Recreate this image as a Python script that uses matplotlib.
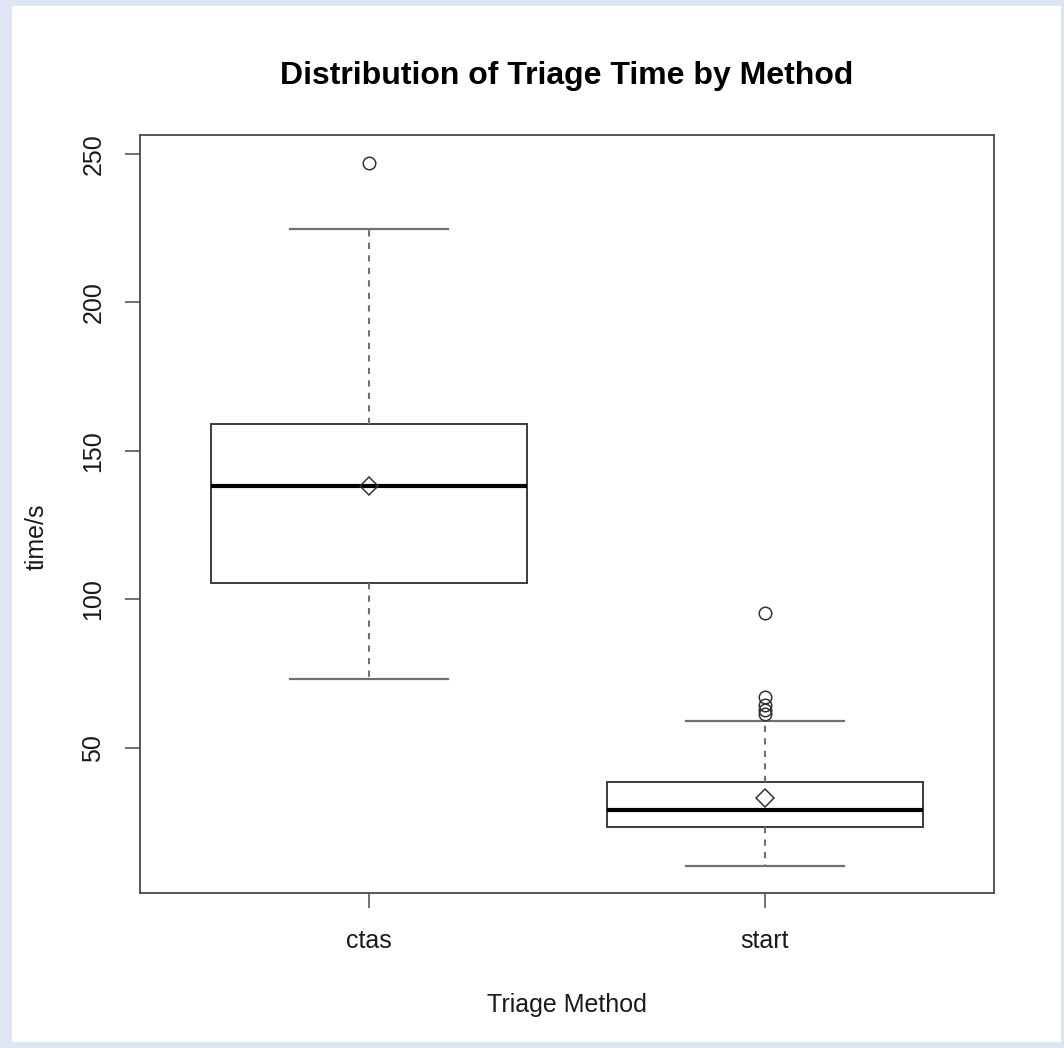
import matplotlib
matplotlib.use('Agg')
import matplotlib.pyplot as plt
from matplotlib.patches import Rectangle

plt.rcParams['font.family'] = ['Liberation Sans', 'DejaVu Sans']

# values
methods = ['ctas', 'start']
q1 = [105.4, 23.1]
medians = [138.1, 29.0]
q3 = [159.0, 38.3]
whisk_lo = [73.0, 10.2]
whisk_hi = [224.6, 59.1]
means = [138.0, 32.9]
outliers = [[246.9], [95.2, 67.2, 64.4, 62.5, 61.4]]
yticks = [50, 100, 150, 200, 250]

W, H = 1064, 1048
fig = plt.figure(figsize=(W / 100, H / 100), dpi=100)
fig.patch.set_facecolor('#dfe5f2')
# white panel inside the light blue frame, kept behind the axes
fig.patches.append(Rectangle((12 / W, 1 - 1042 / H), (1061 - 12) / W, (1042 - 6) / H,
                             transform=fig.transFigure, facecolor='white',
                             edgecolor='none', zorder=-10))

left, right, top, bottom = 140, 994, 135, 893
ax = fig.add_axes([left / W, 1 - bottom / H, (right - left) / W, (bottom - top) / H])
ax.set_facecolor('white')

stats = []
for i, m in enumerate(methods):
    stats.append({'label': m, 'q1': q1[i], 'med': medians[i], 'q3': q3[i],
                  'whislo': whisk_lo[i], 'whishi': whisk_hi[i],
                  'mean': means[i], 'fliers': outliers[i]})

edge = '#3c3c3c'
ax.bxp(stats, positions=[1, 2], widths=0.8, showmeans=True, patch_artist=True,
       boxprops=dict(facecolor='white', edgecolor=edge, linewidth=1.4),
       medianprops=dict(color='black', linewidth=3.0, solid_capstyle='butt'),
       whiskerprops=dict(color='#707070', linewidth=1.5, linestyle=(0, (3, 3))),
       capprops=dict(color='#707070', linewidth=1.6),
       capwidths=0.4,
       flierprops=dict(marker='o', markerfacecolor='none', markeredgecolor='#333333',
                       markersize=9, markeredgewidth=1.1),
       meanprops=dict(marker='D', markerfacecolor='none', markeredgecolor='#333333',
                      markersize=9, markeredgewidth=1.1))

ax.set_xlim(0.42, 2.58)
ax.set_ylim(1.0, 256.4)
ax.set_yticks(yticks)
ax.set_xticks([1, 2])
ax.set_xticklabels(methods)

for s in ax.spines.values():
    s.set_color('#4a4a4a')
    s.set_linewidth(1.3)
ax.tick_params(axis='both', direction='out', length=11, width=1.1, color='#4a4a4a',
               labelsize=18, labelcolor='#1a1a1a')
ax.tick_params(axis='y', labelrotation=90, pad=14)
ax.tick_params(axis='x', pad=15)
for lab in ax.get_yticklabels():
    lab.set_va('center')

ax.set_title('Distribution of Triage Time by Method', fontsize=23, fontweight='bold', pad=37)
ax.set_xlabel('Triage Method', fontsize=18, color='#1a1a1a')
ax.xaxis.set_label_coords(0.5, -0.132)
ax.xaxis.label.set_va('top')
ax.set_ylabel('time/s', fontsize=18, color='#1a1a1a')
ax.yaxis.set_label_coords(-0.107, 0.47)

fig.savefig('out.png', dpi=100, facecolor=fig.get_facecolor())
